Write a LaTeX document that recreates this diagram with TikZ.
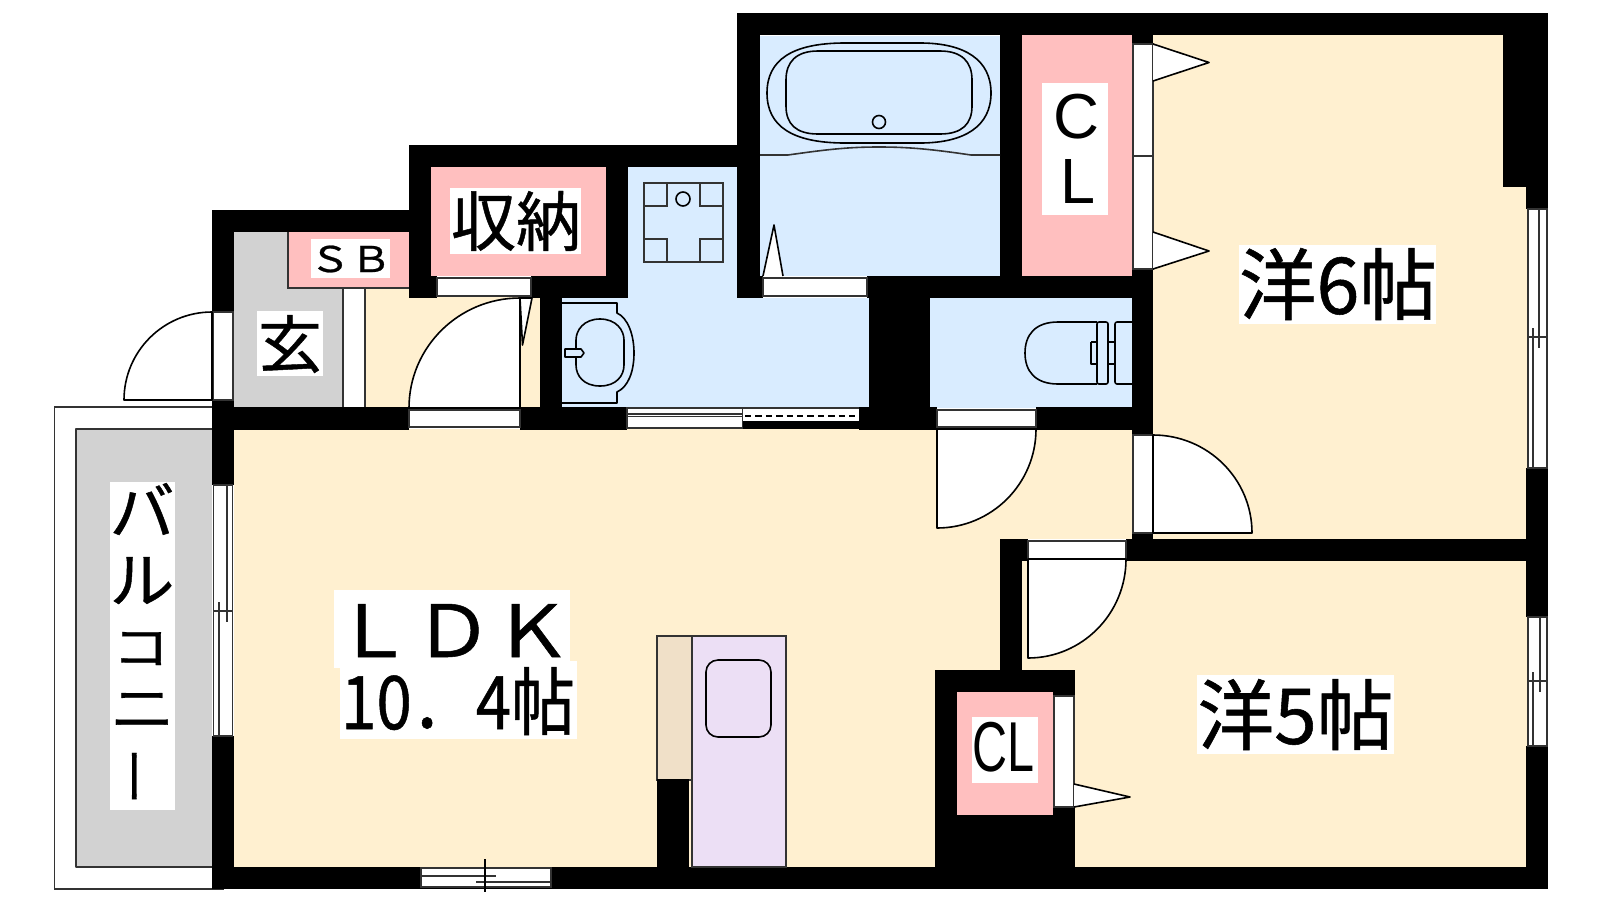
\documentclass[tikz,border=0pt]{standalone}
\usepackage{fontspec}
\usetikzlibrary{calc}
\newfontfamily\jp[FakeBold=0.7]{Noto Sans CJK JP}
\setmainfont{Liberation Sans}
\definecolor{cream}{HTML}{FFF0D0}
\definecolor{wet}{HTML}{D9ECFF}
\definecolor{closet}{HTML}{FFBFBF}
\definecolor{outdoor}{HTML}{D2D2D2}
\definecolor{cook}{HTML}{ECDFF5}
\definecolor{shelf}{HTML}{F0E0C8}
\definecolor{frameline}{HTML}{333333}
\newdimen\pxu \pxu=0.5pt
\tikzset{
  ln/.style={line width=0.8pt,draw=black,line join=round},
  frm/.style={line width=0.8pt,draw=frameline,fill=white},
  wall/.style={fill=black},
}
\newcommand{\wallrect}[4]{\fill[wall] (#1,#2) rectangle (#3,#4);}
\newcommand{\whitebox}[4]{\fill[white] (#1,#2) rectangle (#3,#4);}
\newcommand{\txt}[6]{\node[inner sep=0pt,outer sep=0pt] (#1) at (#2,#3) {\resizebox*{#4\pxu}{#5\pxu}{#6}};}
\newcommand{\doorleaf}[6]{%
  \path[ln,fill=white] (#1,#2) -- (#3,#4)
    .. controls ($(#3,#4)+.5523*(#5,#6)-.5523*(#1,#2)$) and ($(#5,#6)+.5523*(#3,#4)-.5523*(#1,#2)$) .. (#5,#6) -- cycle;}
\newcommand{\vwin}[7]{%
  \draw[frm] (#1,#5) rectangle (#4,#7);
  \draw[frm] (#1,#6) -- (#4,#6);
  \draw[frm] (#2,#6-9) -- (#2,#7);
  \draw[frm] (#3,#5) -- (#3,#6+11);}
\begin{document}
\begin{tikzpicture}[x=0.5pt,y=-0.5pt]
\useasboundingbox (0,0) rectangle (1600,900);
\fill[white] (0,0) rectangle (1600,900);
% balcony
\draw[frm] (54.5,407) rectangle (223,889);
\path[ln,draw=frameline,fill=outdoor] (212,429) -- (76,429) -- (76,867) -- (212,867);
% floors
\fill[cream] (234,429) rectangle (1132,539);
\fill[cream] (234,539) rectangle (1001,868);
\fill[cream] (1153,35) rectangle (1504,539);
\fill[cream] (1500,187) rectangle (1527,539);
\fill[cream] (1022,560) rectangle (1527,868);
\fill[cream] (365,288) rectangle (541,408);
\fill[outdoor] (234,232) rectangle (343,408);
\fill[closet] (288,232) rectangle (410,288);
\draw[frm,fill=closet] (288,232) -- (288,288) -- (410,288);
\draw[frm] (343,288) rectangle (365,408);
\fill[closet] (431,167) rectangle (606,276);
\fill[wet] (628,167) rectangle (737,298);
\fill[wet] (562,298) rectangle (870,408);
\fill[wet] (760,36) rectangle (1000,276);
\fill[wet] (930,298) rectangle (1132,408);
\fill[closet] (1022,35) rectangle (1132,276);
% walls
\wallrect{737}{13}{1548}{35}
\wallrect{737}{13}{760}{298}
\wallrect{409}{145}{760}{167}
\wallrect{409}{145}{431}{298}
\wallrect{212}{210}{409}{232}
\wallrect{212}{210}{234}{312}
\wallrect{212}{400}{234}{485}
\wallrect{212}{736}{234}{889}
\wallrect{212}{407}{409}{430}
\wallrect{520}{407}{627}{430}
\wallrect{859}{407}{937}{430}
\wallrect{1036}{407}{1153}{430}
\wallrect{431}{276}{437}{298}
\wallrect{531}{276}{628}{298}
\wallrect{606}{145}{628}{298}
\wallrect{540}{298}{562}{407}
\wallrect{737}{276}{763}{298}
\wallrect{867}{276}{1153}{298}
\wallrect{869}{276}{930}{430}
\wallrect{1000}{35}{1022}{298}
\wallrect{1132}{13}{1153}{44}
\wallrect{1132}{269}{1153}{435}
\wallrect{1132}{533}{1153}{561}
\wallrect{1503}{13}{1548}{187}
\wallrect{1526}{187}{1548}{209}
\wallrect{1526}{468}{1548}{617}
\wallrect{1526}{746}{1548}{889}
\wallrect{1126}{539}{1548}{561}
\wallrect{1000}{539}{1028}{561}
\wallrect{1000}{539}{1022}{670}
\wallrect{935}{670}{1075}{889}
\wallrect{212}{867}{1548}{889}
\fill[closet] (957,692) rectangle (1053,815);
% kitchen
\draw[frm,fill=shelf] (657,636) rectangle (692,780);
\wallrect{657}{779}{689}{867}
\draw[frm,fill=cook] (692,636) -- (786,636) -- (786,867) -- (692,867) -- cycle;
\draw[ln,rounded corners=6pt] (706,660) rectangle (771,737);
% door frames
\draw[frm] (213,312) rectangle (233,400);
\draw[frm] (437,278) rectangle (531,296);
\draw[frm] (409,410) rectangle (520,427);
\draw[frm] (763,278) rectangle (867,296);
\draw[frm] (937,410) rectangle (1036,427);
\draw[frm] (1133,44) rectangle (1153,156);
\draw[frm] (1133,156) rectangle (1153,269);
\draw[frm] (1133,435) rectangle (1153,533);
\draw[frm] (1028,541) rectangle (1126,559);
\draw[frm] (1054,696) rectangle (1074,807);
% door leaves
\doorleaf{212}{400}{212}{312}{124}{400}
\doorleaf{520}{408}{520}{298}{409}{408}
\doorleaf{937}{429}{1036}{429}{937}{528}
\doorleaf{1153}{533}{1153}{435}{1252}{533}
\doorleaf{1028}{559}{1126}{559}{1028}{658}
% folding door stubs
\draw[ln,fill=white] (520,298) -- (532,298) -- (522.5,345) -- cycle;
\draw[ln,fill=white] (763,276) -- (774,225) -- (783,276);
\draw[ln,fill=white] (1153,44) -- (1209,62.5) -- (1153,81);
\draw[ln,fill=white] (1153,232) -- (1209,251) -- (1153,269);
\draw[ln,fill=white] (1074,784) -- (1130,797) -- (1074,807);
% sliding door to washroom
\draw[frm] (627,408) rectangle (743,428);
\draw[frm] (627,414) -- (743,414);
\draw[frm] (627,416.5) -- (743,416.5);
\fill[white] (743,408) rectangle (859,421);
\wallrect{743}{421}{859}{429}
\draw[frm] (743,408) -- (859,408);
\draw[ln,dash pattern=on 3.2pt off 2pt,line width=1pt] (745,416) -- (859,416);
% windows
\vwin{1528}{1533}{1539}{1547}{209}{337}{468}
\vwin{1528}{1533}{1540}{1547}{617}{681}{746}
\vwin{213.5}{219}{227}{232.5}{485}{611}{736}
\draw[frm] (421,868) rectangle (551,887);
\draw[frm] (421,876) -- (496,876);
\draw[frm] (476,882) -- (551,882);
\draw[ln] (485,859) -- (485,892);
% bathtub
\draw[ln] (845,43) -- (920,43) .. controls (965,43) and (991,60) .. (991,93) .. controls (991,126) and (965,143) .. (920,143) -- (845,143) .. controls (792,143) and (767,126) .. (767,93) .. controls (767,60) and (792,43) .. (845,43) -- cycle;
\draw[ln] (818,51) -- (940,51) .. controls (962,51) and (972,62) .. (972,80) -- (972,106) .. controls (972,124) and (962,134) .. (940,134) -- (818,134) .. controls (796,134) and (786,124) .. (786,106) -- (786,80) .. controls (786,62) and (796,51) .. (818,51) -- cycle;
\draw[ln] (879,122) circle[radius=6.5];
\draw[frm,fill=none] (760,155) -- (788,155) .. controls (830,149) and (850,147) .. (879,147) .. controls (908,147) and (930,149) .. (971,155) -- (1000,155);
% washing machine pan
\draw[frm,fill=none] (644,183) rectangle (723,262);
\draw[frm,fill=none] (644,206) -- (667,206) -- (667,183);
\draw[frm,fill=none] (723,206) -- (700,206) -- (700,183);
\draw[frm,fill=none] (644,239) -- (667,239) -- (667,262);
\draw[frm,fill=none] (723,239) -- (700,239) -- (700,262);
\draw[ln] (683,199) circle[radius=7];
% basin
\draw[ln] (562,303) -- (617,303) -- (617,313) .. controls (628,318) and (634,335) .. (634,353) .. controls (634,372) and (628,387) .. (617,392) -- (617,403) -- (562,403);
\draw[ln] (600,319) .. controls (616,319) and (624,330) .. (624,340) -- (624,365) .. controls (624,376) and (616,386) .. (600,386) .. controls (584,386) and (576,376) .. (576,365) -- (576,340) .. controls (576,330) and (584,319) .. (600,319) -- cycle;
\draw[ln,fill=wet] (565,349) -- (581,349) -- (584,353) -- (581,357) -- (565,357) -- cycle;
% toilet
\draw[ln] (1097,322) -- (1058,322) .. controls (1035,322) and (1025,335) .. (1025,353) .. controls (1025,371) and (1035,384) .. (1058,384) -- (1097,384);
\draw[ln] (1091,342) -- (1097,342) (1091,342) -- (1091,364) -- (1097,364);
\draw[ln,rounded corners=1pt] (1097,322) -- (1108,322) -- (1108,384) -- (1097,384) -- cycle;
\draw[ln] (1108,342) -- (1115,342) (1108,364) -- (1115,364);
\draw[ln,rounded corners=1pt] (1132,322) -- (1115,322) -- (1115,384) -- (1132,384);
% label backgrounds
\whitebox{311}{239}{390}{278}
\whitebox{450}{188}{581}{254}
\whitebox{257}{311}{323}{376}
\whitebox{1042}{83}{1108}{215}
\whitebox{1239}{245}{1436}{324}
\whitebox{1197}{675}{1394}{754}
\whitebox{972}{717}{1038}{783}
\whitebox{334}{590}{569.5}{668}
\whitebox{340}{661}{577}{739}
\whitebox{110}{482}{175}{810}
% labels
\txt{sb}{350.5}{259}{82}{27}{\jp ＳＢ}
\txt{storage}{516}{221}{130}{60}{\jp 収納}
\txt{genkan}{290}{344}{64}{58}{\jp 玄}
\txt{clc}{1076}{116.5}{46}{45}{C}
\txt{cll}{1077.5}{181}{35}{44}{L}
\txt{sixmat}{1338}{284}{198}{72}{\jp 洋6帖}
\txt{fivemat}{1295.5}{714.5}{196}{71}{\jp 洋5帖}
\txt{smallcl}{1003.5}{747}{62}{50}{CL}
\txt{ldk}{453}{630.5}{238}{53}{\jp ＬＤＫ}
\txt{ldkmat}{458}{701}{234}{68}{\jp 10．4帖}
\txt{ba}{142}{509}{65}{52}{\jp バ}
\txt{ru}{142}{580.5}{65}{47}{\jp ル}
\txt{ko}{141}{648.5}{57}{33}{\jp コ}
\txt{ni}{142.5}{710.5}{65}{35}{\jp ニ}
\txt{bar}{142}{776}{20}{58}{\rotatebox{90}{\jp ー}}
\end{tikzpicture}
\end{document}
